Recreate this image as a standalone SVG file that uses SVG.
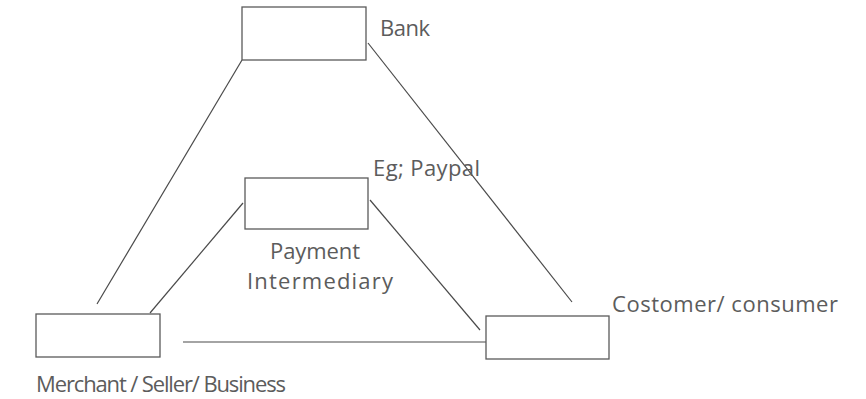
<svg xmlns="http://www.w3.org/2000/svg" width="866" height="399" viewBox="0 0 866 399">
<style>
.box{fill:#fff;stroke:#5a5a5a;stroke-width:1.3}
.ln{stroke:#4a4a4a;stroke-width:1.2;fill:none}
text{font-family:"Open Sans","Liberation Sans",sans-serif;font-size:22px;fill:#5c5c5c}
</style>
<rect width="866" height="399" fill="#fff"/>
<g id="connectors">
<line class="ln" x1="242" y1="60" x2="97" y2="304"/>
<line class="ln" x1="368" y1="43" x2="572" y2="302"/>
<line class="ln" x1="243" y1="203" x2="150" y2="313"/>
<line class="ln" x1="370" y1="200" x2="480" y2="330"/>
<line class="ln" x1="183" y1="342" x2="486" y2="342"/>
</g>
<g id="bank">
<rect class="box" x="242" y="7" width="124" height="53"/>
<text x="380" y="36" textLength="50">Bank</text>
</g>
<g id="payment">
<rect class="box" x="245" y="178" width="123" height="51"/>
<text x="373" y="176" textLength="107">Eg; Paypal</text>
<text x="270" y="259" textLength="90">Payment</text>
<text x="247" y="289" textLength="146">Intermediary</text>
</g>
<g id="merchant">
<rect class="box" x="36" y="314" width="124" height="43"/>
<text x="36" y="392" textLength="250">Merchant / Seller/ Business</text>
</g>
<g id="customer">
<rect class="box" x="486" y="316" width="123" height="43"/>
<text x="612" y="312" textLength="226">Costomer/ consumer</text>
</g>
</svg>
